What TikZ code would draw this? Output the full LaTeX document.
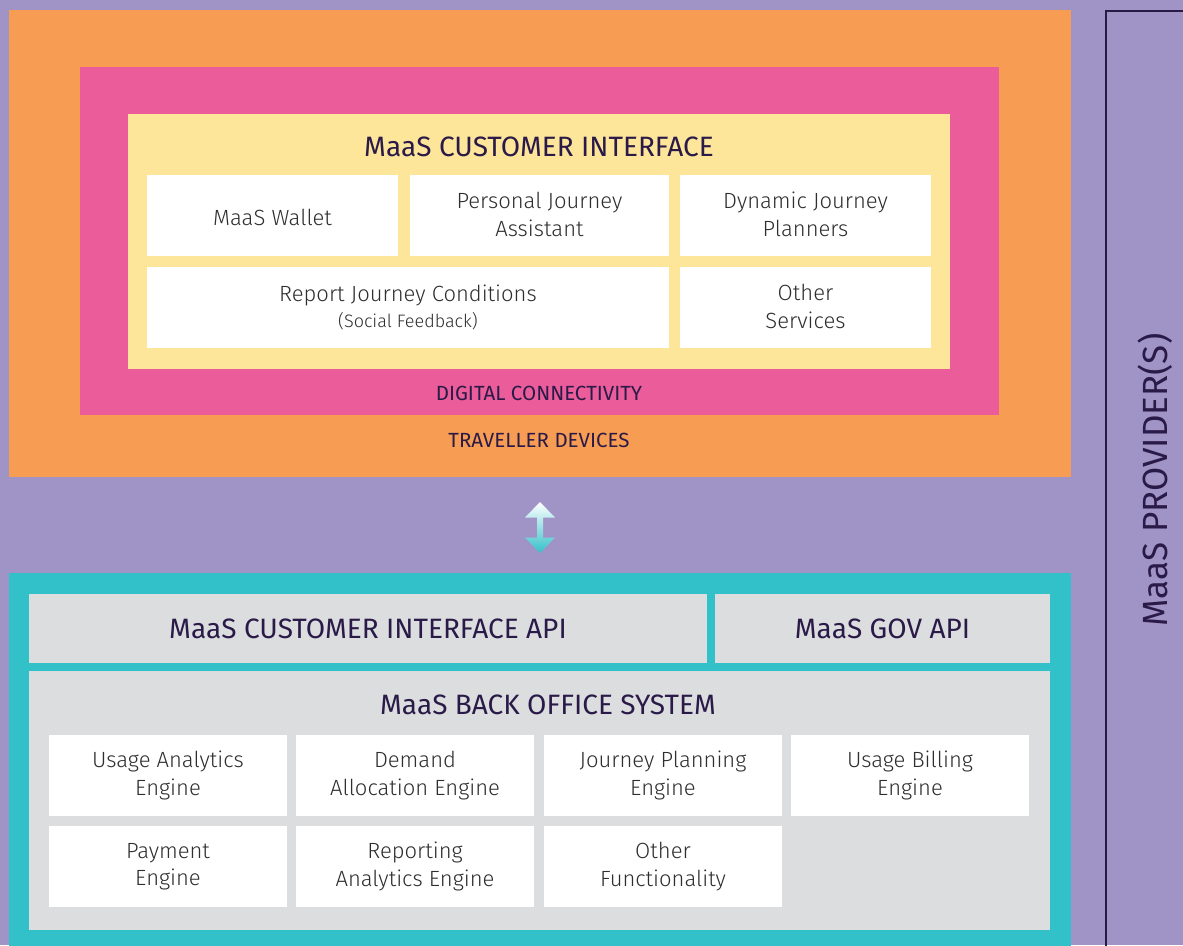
\documentclass[tikz,border=0pt]{standalone}
\usepackage{fontspec}
\setmainfont{Fira Sans}
\newfontfamily\lightsans{Fira Sans Light}
\definecolor{maasbg}{HTML}{A094C6}
\definecolor{devorange}{HTML}{F79C53}
\definecolor{connpink}{HTML}{EA5C9A}
\definecolor{ciyellow}{HTML}{FDE59A}
\definecolor{boteal}{HTML}{33C1C9}
\definecolor{bogray}{HTML}{DCDDDF}
\definecolor{titletext}{HTML}{2A1A48}
\definecolor{boxtext}{HTML}{2E2E2E}
\begin{document}
\begin{tikzpicture}[x=1pt,y=-1pt,
  svc/.style={fill=white,text=boxtext,font=\lightsans\fontsize{22}{27.5}\selectfont,
    align=center,inner sep=0pt,outer sep=0pt,minimum height=81,
    execute at begin node={\rule{0pt}{22pt}},
    execute at end node={\rule[-2.7pt]{0pt}{0pt}}},
  apibox/.style={fill=bogray,text=titletext,font=\fontsize{28}{32}\selectfont,
    inner sep=0pt,outer sep=0pt,minimum height=69},
  headline/.style={text=titletext,font=\fontsize{28}{32}\selectfont,inner sep=0pt},
  layername/.style={text=titletext,font=\fontsize{20.5}{24}\selectfont,inner sep=0pt}]
  \useasboundingbox (0,0) rectangle (1183,945);
  \fill [maasbg] (0,0) rectangle (1183,945);
  % traveller side
  \fill [devorange] (9,10) rectangle (1071,477);
  \fill [connpink] (80,67) rectangle (999,415);
  \fill [ciyellow] (128,114) rectangle (950,369);
  \node [headline] (ci) at (539,147) {MaaS CUSTOMER INTERFACE};
  \node [svc,minimum width=251] (wallet) at (272.5,215.5) {MaaS Wallet};
  \node [svc,minimum width=259] (assist) at (539.5,215.5) {Personal Journey\\Assistant};
  \node [svc,minimum width=251] (planners) at (805.5,215.5) {Dynamic Journey\\Planners};
  \node [svc,minimum width=522] (report) at (408,307.5)
    {Report Journey Conditions\\[-2pt]{\fontsize{18}{20}\selectfont(Social Feedback)}};
  \node [svc,minimum width=251] (othsvc) at (805.5,307.5) {Other\\Services};
  \node [layername] (digital) at (539,393) {DIGITAL CONNECTIVITY};
  \node [layername] (devices) at (539,440) {TRAVELLER DEVICES};
  % link between the two sides
  \shade [top color=white,bottom color=boteal]
    (540,502) -- (555,517.5) -- (543,517.5) -- (543,537.5) -- (555,537.5) -- (540,553)
    -- (525,537.5) -- (537,537.5) -- (537,517.5) -- (525,517.5) -- cycle;
  % back office side
  \fill [boteal] (9,573) rectangle (1071,946);
  \node [apibox,minimum width=678] (ciapi) at (368,628.5) {MaaS CUSTOMER INTERFACE API};
  \node [apibox,minimum width=335] (govapi) at (882.5,628.5) {MaaS GOV API};
  \fill [bogray] (29,671) rectangle (1050,930);
  \node [headline] (bos) at (548,705) {MaaS BACK OFFICE SYSTEM};
  \foreach \nm/\cx/\cy/\txt in {
      usage/168/775.5/{Usage Analytics\\Engine},
      demand/415/775.5/{Demand\\Allocation Engine},
      jplan/663/775.5/{Journey Planning\\Engine},
      billing/910/775.5/{Usage Billing\\Engine},
      payment/168/866.5/{Payment\\Engine},
      reporting/415/866.5/{Reporting\\Analytics Engine},
      othfun/663/866.5/{Other\\Functionality}}
    \node [svc,minimum width=238] (\nm) at (\cx,\cy) {\txt};
  % provider frame
  \draw [titletext,line width=2pt] (1106,946) -- (1106,11) -- (1184,11);
  \node [text=titletext,font=\fontsize{35}{38}\selectfont,rotate=90,inner sep=0pt]
    (provider) at (1155,480) {MaaS PROVIDER(S)};
\end{tikzpicture}
\end{document}
